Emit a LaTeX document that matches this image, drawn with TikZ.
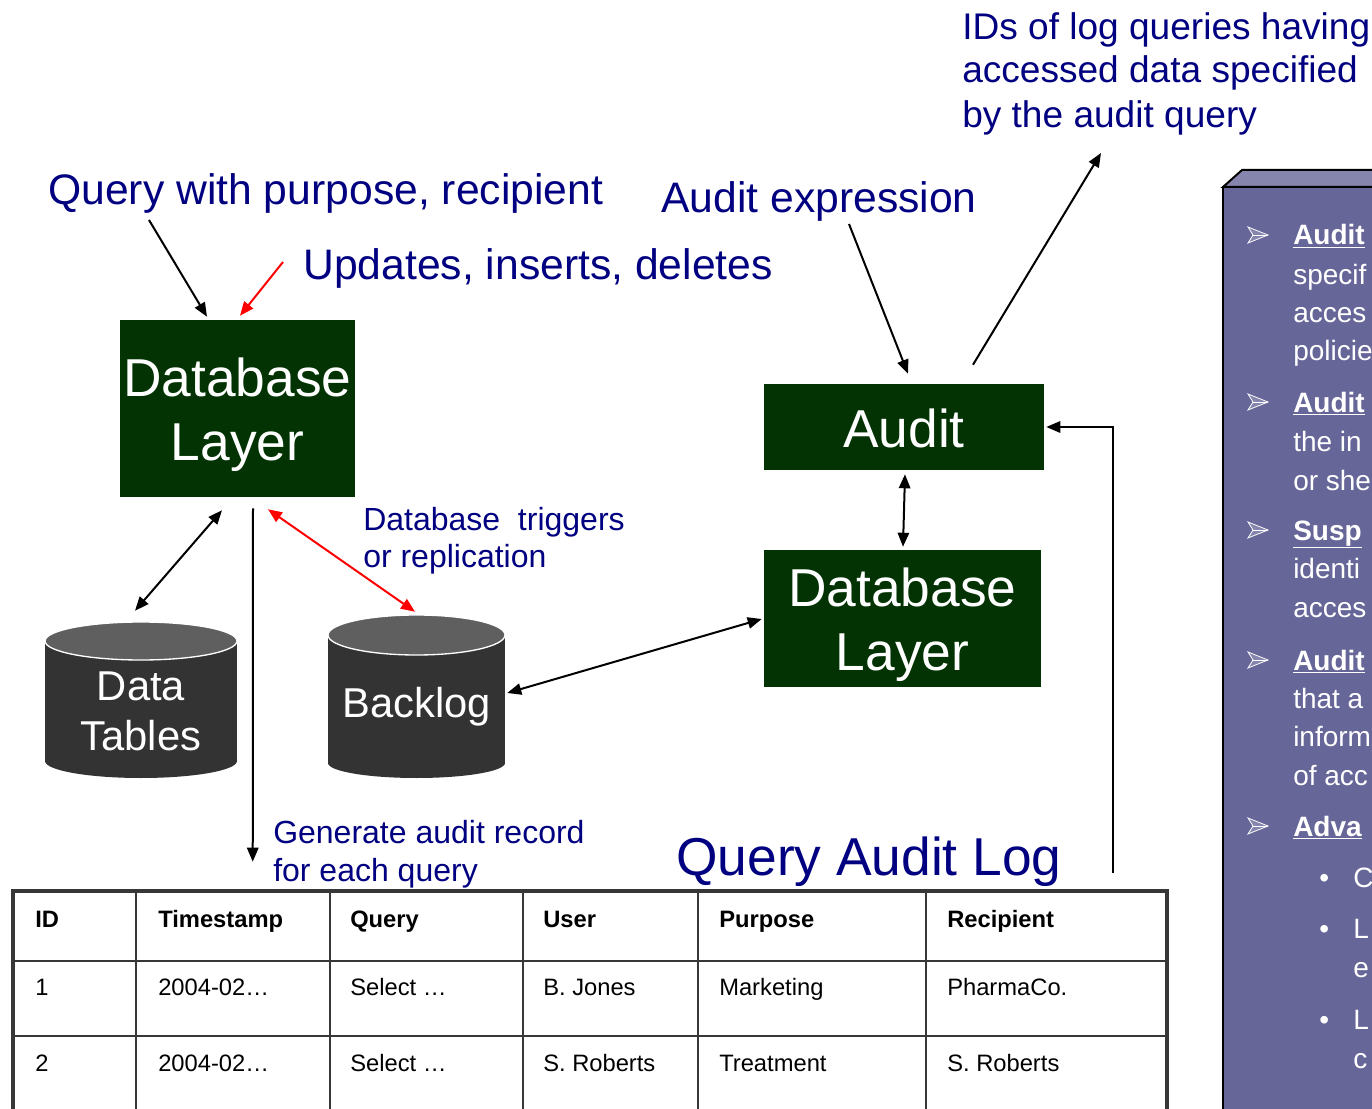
\documentclass[tikz,border=0pt]{standalone}
\usepackage{fontspec}
\setmainfont{Liberation Sans}
\usetikzlibrary{arrows.meta,calc}
\definecolor{navy}{RGB}{0,0,128}
\definecolor{dbgreen}{RGB}{3,51,3}
\definecolor{cylbody}{RGB}{51,51,51}
\definecolor{cyltop}{RGB}{95,95,95}
\definecolor{panelfront}{RGB}{102,102,153}
\definecolor{paneltop}{RGB}{133,133,173}
\definecolor{tabline}{RGB}{55,55,55}
\begin{document}
\begin{tikzpicture}[x=0.75pt,y=-0.75pt,
  lbl/.style={text=navy,inner sep=0,anchor=base west,font=\fontsize{32}{38}\selectfont},
  tlbl/.style={text=navy,inner sep=0,anchor=base west,font=\fontsize{27.8}{33}\selectfont},
  slbl/.style={text=navy,inner sep=0,anchor=base west,font=\fontsize{24}{28}\selectfont},
  biglbl/.style={text=navy,inner sep=0,anchor=base west,font=\fontsize{40}{48}\selectfont},
  dbbox/.style={fill=dbgreen,draw=none,inner sep=0},
  dbtext/.style={text=white,inner sep=0,align=center,font=\fontsize{40}{48}\selectfont},
  cyltext/.style={text=white,inner sep=0,align=center,font=\fontsize{31.3}{38}\selectfont},
  ghost/.style={draw=none,fill=none,inner sep=0},
  arr/.style={line width=1.5pt,-{Triangle[length=10.5pt,width=8.5pt]}},
  darr/.style={line width=1.5pt,{Triangle[length=10.5pt,width=8.5pt]}-{Triangle[length=10.5pt,width=8.5pt]}},
  cell/.style={inner sep=0,anchor=base west,font=\fontsize{17.8}{20}\selectfont},
  hcell/.style={cell,font=\fontsize{17.8}{20}\selectfont\bfseries},
  ptext/.style={text=white,inner sep=0,anchor=base west,font=\fontsize{21}{26}\selectfont},
  pbul/.pic={\draw[white,line width=0.6pt,fill=paneltop] (0,-8) -- (20,0) -- (0,8) -- (5,0) -- cycle;
             \draw[white,line width=0.6pt] (5,0) -- (20,0);}
]
\useasboundingbox (0,0) rectangle (1372,1109);

% ---------- labels ----------
\node[lbl] (lq) at (48,205) {Query with purpose, recipient};
\node[lbl] (lu) at (303,280) {Updates, inserts, deletes};
\node[lbl] (la) at (661,213) {Audit expression};
\node[tlbl] (lt1) at (962,40) {IDs of log queries having};
\node[tlbl] (lt2) at (962,83) {accessed data specified};
\node[tlbl] (lt3) at (962,128) {by the audit query};
\node[slbl] (ld1) at (363,530) {Database\ \ triggers};
\node[slbl] (ld2) at (363,567) {or replication};
\node[slbl] (lg1) at (273,843) {Generate audit record};
\node[slbl] (lg2) at (273,881) {for each query};
\node[biglbl] (lql) at (676,875) {Query Audit Log};

% ---------- boxes ----------
\node[dbbox,minimum width=176.25pt,minimum height=132.75pt] (dbl) at (237.5,408.5) {};
\node[dbtext] (dblt) at (237.5,414.5) {Database\\Layer};
\node[dbbox,minimum width=210pt,minimum height=64.5pt] (audit) at (904,427) {};
\node[dbtext] (auditt) at (904,428) {Audit};
\node[dbbox,minimum width=207.75pt,minimum height=102.75pt] (dbr) at (902.5,618.5) {};
\node[dbtext] (dbrt) at (902.5,624.5) {Database\\Layer};

% ---------- cylinders ----------
\fill[cylbody] (45,641) rectangle (237,761);
\fill[cylbody] (141,761) ellipse[x radius=72pt,y radius=12.75pt];
\filldraw[fill=cyltop,draw=white,line width=1pt] (141,641) ellipse[x radius=72pt,y radius=14.25pt];
\node[ghost,minimum width=144pt,minimum height=117pt] (dt) at (141,700) {};
\node[cyltext] (dtt) at (141,711.5) {Data\\Tables};

\fill[cylbody] (328,635) rectangle (505,763);
\fill[cylbody] (416.5,763) ellipse[x radius=66.375pt,y radius=11.25pt];
\filldraw[fill=cyltop,draw=white,line width=1pt] (416.5,635) ellipse[x radius=66.375pt,y radius=15pt];
\node[ghost,minimum width=132.75pt,minimum height=122.25pt] (bl) at (416.5,696.5) {};
\node[cyltext] (blt) at (416.5,707) {Backlog};

% ---------- table ----------
\node[ghost,minimum width=865.5pt,minimum height=171.75pt] (tab) at (590,1005.5) {};
\fill[white] (13,891) rectangle (1167,1120);
\foreach \cx in {136,330,523,698,926} \draw[tabline,line width=2pt] (\cx,891) -- (\cx,1120);
\foreach \ry in {961,1036} \draw[tabline,line width=2pt] (13,\ry) -- (1167,\ry);
\draw[tabline,line width=3pt] (13,891) rectangle (1167,1120);
\node[hcell] (h1) at (35,927.5) {ID};
\node[hcell] (h2) at (158,927.5) {Timestamp};
\node[hcell] (h3) at (350,927.5) {Query};
\node[hcell] (h4) at (543,927.5) {User};
\node[hcell] (h5) at (719,927.5) {Purpose};
\node[hcell] (h6) at (947,927.5) {Recipient};
\node[cell] (a1) at (35,995.5) {1};
\node[cell] (a2) at (158,995.5) {2004-02…};
\node[cell] (a3) at (350,995.5) {Select …};
\node[cell] (a4) at (543,995.5) {B. Jones};
\node[cell] (a5) at (719,995.5) {Marketing};
\node[cell] (a6) at (947,995.5) {PharmaCo.};
\node[cell] (b1) at (35,1071.5) {2};
\node[cell] (b2) at (158,1071.5) {2004-02…};
\node[cell] (b3) at (350,1071.5) {Select …};
\node[cell] (b4) at (543,1071.5) {S. Roberts};
\node[cell] (b5) at (719,1071.5) {Treatment};
\node[cell] (b6) at (947,1071.5) {S. Roberts};

% ---------- connectors ----------
\coordinate (q0) at (149,220);
\coordinate (u0) at (283,262);
\coordinate (e0) at (849,224);
\coordinate (o1) at (1101,153);
\draw[arr] (q0) -- ($(dbl.north)+(-30.5,-3)$);
\draw[arr,red] (u0) -- ($(dbl.north)+(2.5,-4)$);
\draw[darr] ($(dbl.south)+(-15.5,13)$) -- ($(dt.north)+(-6,-11)$);
\draw[arr] ($(dbl.south)+(15.5,11)$) -- ($(tab.north west)+(240,-29)$);
\draw[darr,red] ($(dbl.south)+(30.5,12)$) -- ($(bl.north)+(-1.5,-3)$);
\draw[darr] ($(bl.east)+(2,-3.5)$) -- ($(dbr.west)+(-2,0.5)$);
\draw[arr] (e0) -- ($(audit.north)+(4,-10)$);
\draw[arr] ($(audit.north)+(69,-19)$) -- (o1);
\draw[darr] ($(audit.south)+(1,4)$) -- ($(dbr.north)+(0.5,-3)$);
\draw[arr] ($(tab.north east)+(-54,-18)$) |- ($(audit.east)+(2,0)$);

% ---------- side panel ----------
\fill[panelfront] (1223,187) rectangle (1400,1120);
\filldraw[fill=paneltop,draw=black,line width=1.5pt] (1223,187) -- (1242,170) -- (1400,170) -- (1400,187) -- cycle;
\draw[black,line width=1.5pt] (1400,187) -- (1223,187) -- (1223,1120);
\foreach \by in {235,402,530,660,826} \pic at (1248,\by) {pbul};
\node[ptext] (p1) at (1293,245) {\textbf{\underline{Audit}}};
\node[ptext] (p2) at (1293,285) {specif};
\node[ptext] (p3) at (1293,323) {acces};
\node[ptext] (p4) at (1293,361) {policie};
\node[ptext] (p5) at (1293,412) {\textbf{\underline{Audit}}};
\node[ptext] (p6) at (1293,451) {the in};
\node[ptext] (p7) at (1293,490) {or she};
\node[ptext] (p8) at (1293,540) {\textbf{\underline{Susp}}};
\node[ptext] (p9) at (1293,578) {identi};
\node[ptext] (p10) at (1293,617) {acces};
\node[ptext] (p11) at (1293,670) {\textbf{\underline{Audit}}};
\node[ptext] (p12) at (1293,708) {that a};
\node[ptext] (p13) at (1293,746) {inform};
\node[ptext] (p14) at (1293,785) {of acc};
\node[ptext] (p15) at (1293,836) {\textbf{\underline{Adva}}};
\foreach \sy in {887,938,1029} \node[ptext] at (1319,\sy) {•};
\node[ptext] (s1) at (1353,887) {C};
\node[ptext] (s2) at (1353,938) {L};
\node[ptext] (s3) at (1353,977) {e};
\node[ptext] (s4) at (1353,1029) {L};
\node[ptext] (s5) at (1353,1068) {c};
\end{tikzpicture}
\end{document}
